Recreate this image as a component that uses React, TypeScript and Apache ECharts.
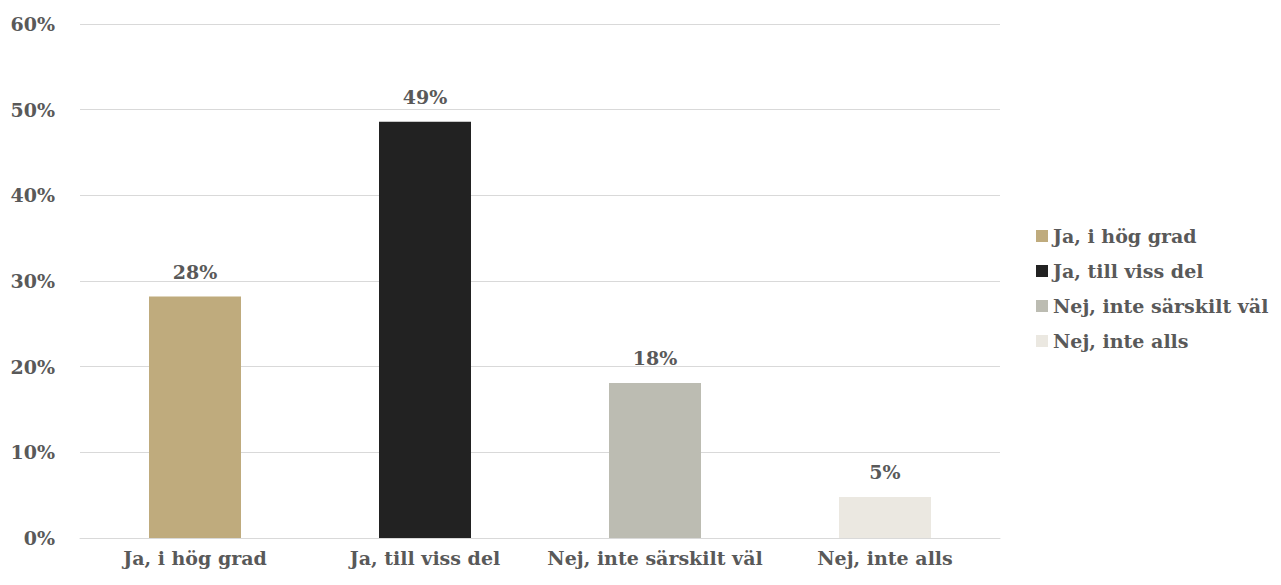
import React, { useEffect, useRef } from "react";
import * as echarts from "echarts";

const categories = ["Ja, i hög grad", "Ja, till viss del", "Nej, inte särskilt väl", "Nej, inte alls"];
const values = [28.2, 48.6, 18.1, 4.8];
const colors = ["#bfab7d", "#222222", "#bcbcb2", "#ebe8e1"];
const yTicks = [0, 10, 20, 30, 40, 50, 60];

const FONT = "DejaVu Serif";
const TEXT = "#595959";

export default function App() {
  const ref = useRef<HTMLDivElement>(null);
  useEffect(() => {
    if (!ref.current) return;
    const chart = echarts.init(ref.current, null, { renderer: "svg" });
    const series = categories.map((name, i) => ({
      name,
      type: "bar",
      stack: "all",
      barWidth: "40%",
      itemStyle: { color: colors[i] },
      label: {
        show: true,
        position: "top",
        distance: 15,
        color: TEXT,
        fontFamily: FONT,
        fontWeight: "bold",
        fontSize: 19,
        formatter: (p: any) => Math.round(p.value) + "%",
      },
      data: categories.map((_, j) => (j === i ? values[i] : null)),
    }));
    chart.setOption({
      animation: false,
      textStyle: { fontFamily: FONT },
      grid: { left: 80, right: 281, top: 24, bottom: 47 },
      legend: {
        orient: "vertical",
        left: 1031,
        top: 220,
        itemWidth: 12,
        itemHeight: 12,
        itemGap: 13,
        icon: "rect",
        textStyle: { color: TEXT, fontFamily: FONT, fontWeight: "bold", fontSize: 19, lineHeight: 22 },
        data: categories,
      },
      xAxis: {
        type: "category",
        data: categories,
        axisTick: { show: false },
        axisLine: { lineStyle: { color: "#d9d9d9" } },
        axisLabel: { interval: 0, color: TEXT, fontFamily: FONT, fontWeight: "bold", fontSize: 19, margin: 10 },
      },
      yAxis: {
        type: "value",
        min: yTicks[0],
        max: yTicks[yTicks.length - 1],
        interval: 10,
        axisLabel: {
          color: TEXT,
          fontFamily: FONT,
          fontWeight: "bold",
          fontSize: 19,
          margin: 25,
          formatter: (v: number) => v + "%",
        },
        splitLine: { lineStyle: { color: "#d9d9d9" } },
      },
      series,
    });
    return () => chart.dispose();
  }, []);
  return <div ref={ref} style={{ width: 1281, height: 585, position: "absolute", left: 0, top: 0 }} />;
}
